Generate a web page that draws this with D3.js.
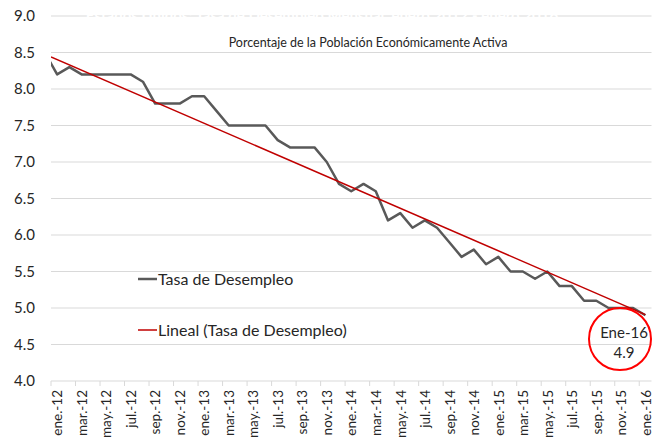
<!DOCTYPE html>
<html>
<head>
<meta charset="utf-8">
<script src="https://cdn.jsdelivr.net/npm/d3@7"></script>
<style>
  body { margin: 0; background: #fff; }
  svg { display: block; font-family: Lato, "Open Sans", sans-serif; }
</style>
</head>
<body>
<svg id="chart" width="660" height="444"></svg>
<script>
// months of the series (dic.-11 lies just before the axis start and is clipped)
const months = ["dic.-11",
  "ene.-12","feb.-12","mar.-12","abr.-12","may.-12","jun.-12","jul.-12","ago.-12","sep.-12","oct.-12","nov.-12","dic.-12",
  "ene.-13","feb.-13","mar.-13","abr.-13","may.-13","jun.-13","jul.-13","ago.-13","sep.-13","oct.-13","nov.-13","dic.-13",
  "ene.-14","feb.-14","mar.-14","abr.-14","may.-14","jun.-14","jul.-14","ago.-14","sep.-14","oct.-14","nov.-14","dic.-14",
  "ene.-15","feb.-15","mar.-15","abr.-15","may.-15","jun.-15","jul.-15","ago.-15","sep.-15","oct.-15","nov.-15","dic.-15",
  "ene.-16"];

const tasa = [8.5,
  8.2, 8.3, 8.2, 8.2, 8.2, 8.2, 8.2, 8.1, 7.8, 7.8, 7.8, 7.9,
  7.9, 7.7, 7.5, 7.5, 7.5, 7.5, 7.3, 7.2, 7.2, 7.2, 7.0, 6.7,
  6.6, 6.7, 6.6, 6.2, 6.3, 6.1, 6.2, 6.1, 5.9, 5.7, 5.8, 5.6,
  5.7, 5.5, 5.5, 5.4, 5.5, 5.3, 5.3, 5.1, 5.1, 5.0, 5.0, 5.0,
  4.9];

// linear trend: value at the axis start and at ene.-16
const tendenciaPos = [0.5, 49];
const tendencia = [8.44, 4.91];

const tickLabels = ["ene.-12","mar.-12","may.-12","jul.-12","sep.-12","nov.-12",
  "ene.-13","mar.-13","may.-13","jul.-13","sep.-13","nov.-13",
  "ene.-14","mar.-14","may.-14","jul.-14","sep.-14","nov.-14",
  "ene.-15","mar.-15","may.-15","jul.-15","sep.-15","nov.-15","ene.-16"];

const yTicks = [4.0, 4.5, 5.0, 5.5, 6.0, 6.5, 7.0, 7.5, 8.0, 8.5, 9.0];

(function() {
  const svg = d3.select("#chart");
  const plotLeft = 51, plotRight = 651.5, plotTop = 16, plotBottom = 381;

  // index 0 = dic.-11, axis covers ene.-12 (1) .. ene.-16 (49)
  const x = d3.scaleLinear().domain([0.5, 49.5]).range([plotLeft, plotRight]);
  const y = d3.scaleLinear().domain([4, 9]).range([plotBottom, plotTop]);

  svg.append("defs").append("clipPath").attr("id", "plot")
    .append("rect").attr("x", plotLeft).attr("y", 0)
    .attr("width", plotRight - plotLeft).attr("height", 444);

  // gridlines
  svg.append("g").selectAll("line").data(yTicks).enter().append("line")
    .attr("x1", plotLeft).attr("x2", plotRight)
    .attr("y1", d => y(d)).attr("y2", d => y(d))
    .attr("stroke", "#d9d9d9").attr("stroke-width", 1);

  // hidden (white) title lying over the top gridline
  svg.append("text")
    .attr("x", 322).attr("y", 21)
    .attr("text-anchor", "middle")
    .attr("font-size", 15).attr("font-weight", "bold")
    .attr("fill", "#fff")
    .text("Estados Unidos: Tasa de Desempleo Mensual, enero 2012 - enero 2016");

  // y labels
  svg.append("g").selectAll("text").data(yTicks).enter().append("text")
    .attr("x", 35).attr("y", d => y(d))
    .attr("dy", "0.35em")
    .attr("text-anchor", "end")
    .attr("font-size", 15).attr("fill", "#262626")
    .text(d => d.toFixed(1));

  // x axis ticks every two months, at category boundaries
  const tickPos = d3.range(0.5, 50, 2);
  svg.append("g").selectAll("line").data(tickPos).enter().append("line")
    .attr("x1", d => x(d)).attr("x2", d => x(d))
    .attr("y1", plotBottom).attr("y2", plotBottom + 5)
    .attr("stroke", "#d9d9d9");

  svg.append("g").selectAll("text").data(tickLabels).enter().append("text")
    .attr("transform", d => `translate(${x(months.indexOf(d)) + 0.5},390) rotate(-90)`)
    .attr("text-anchor", "end")
    .attr("dy", "0.35em")
    .attr("font-size", 13.5).attr("fill", "#262626")
    .text(d => d);

  // subtitle
  svg.append("text")
    .attr("x", 368).attr("y", 47)
    .attr("text-anchor", "middle")
    .attr("font-size", 12.5).attr("fill", "#262626")
    .text("Porcentaje de la Población Económicamente Activa");

  const plot = svg.append("g").attr("clip-path", "url(#plot)");

  const line = d3.line().x((d, i) => x(i)).y(d => y(d));
  plot.append("path")
    .datum(tasa)
    .attr("d", line)
    .attr("fill", "none")
    .attr("stroke", "#595959")
    .attr("stroke-width", 2.5)
    .attr("stroke-linejoin", "round");

  plot.append("path")
    .datum(tendencia)
    .attr("d", d3.line().x((d, i) => x(tendenciaPos[i])).y(d => y(d)))
    .attr("fill", "none")
    .attr("stroke", "#c00000")
    .attr("stroke-width", 1.5);

  // legend
  const legend = svg.append("g");
  const legendItems = [
    { label: "Tasa de Desempleo", color: "#595959", w: 2.5, y: 279 },
    { label: "Lineal (Tasa de Desempleo)", color: "#c00000", w: 1.5, y: 330 }
  ];
  legendItems.forEach(it => {
    legend.append("line")
      .attr("x1", 138).attr("x2", 157)
      .attr("y1", it.y).attr("y2", it.y)
      .attr("stroke", it.color).attr("stroke-width", it.w);
    legend.append("text")
      .attr("x", 158).attr("y", it.y)
      .attr("dy", "0.35em")
      .attr("font-size", 16).attr("fill", "#262626")
      .text(it.label);
  });

  // annotation of the last value
  const last = tasa.length - 1;
  svg.append("circle")
    .attr("cx", 620).attr("cy", 339).attr("r", 31)
    .attr("fill", "none").attr("stroke", "#ff0000").attr("stroke-width", 2);
  svg.append("text")
    .attr("x", 624).attr("y", 333).attr("dy", "0.35em")
    .attr("text-anchor", "middle").attr("font-size", 15).attr("fill", "#262626")
    .text("Ene-16");
  svg.append("text")
    .attr("x", 624).attr("y", 353).attr("dy", "0.35em")
    .attr("text-anchor", "middle").attr("font-size", 15).attr("fill", "#262626")
    .text(tasa[last].toFixed(1));
})();
</script>
</body>
</html>
